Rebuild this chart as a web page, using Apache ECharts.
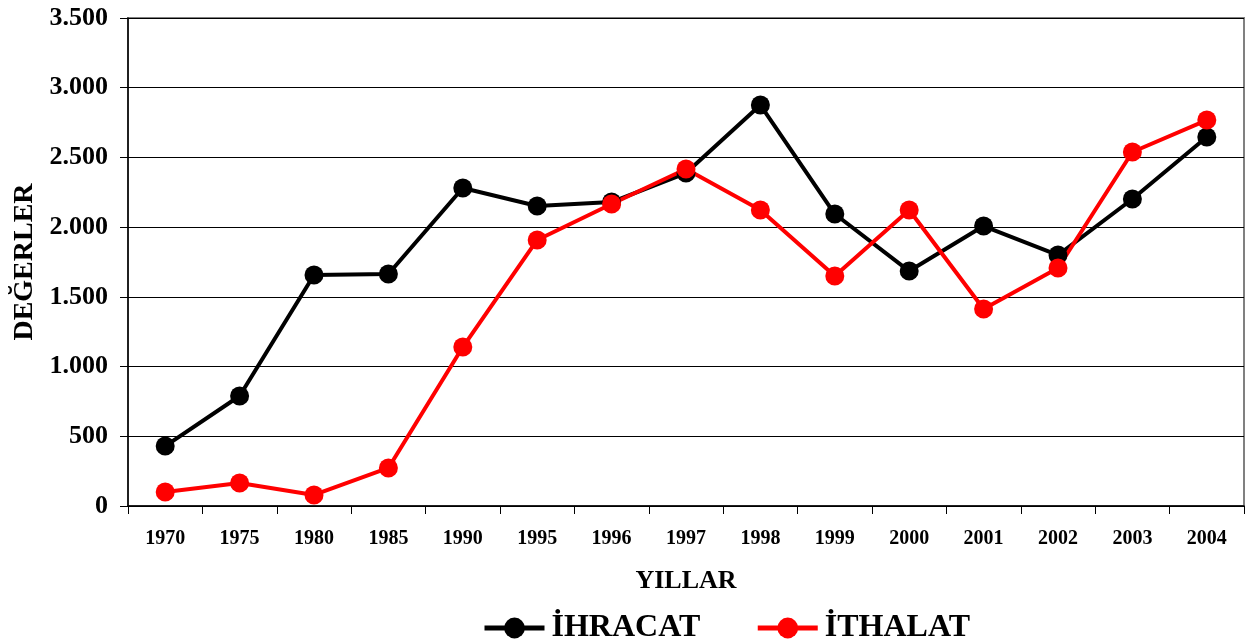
<!DOCTYPE html>
<html>
<head>
<meta charset="utf-8">
<script src="https://cdn.jsdelivr.net/npm/echarts@6/dist/echarts.min.js"></script>
<style>html,body{margin:0;padding:0;background:#fff;}#c{width:1252px;height:643px;}</style>
</head>
<body>
<div id="c"></div>
<script>
const categories = ['1970','1975','1980','1985','1990','1995','1996','1997','1998','1999','2000','2001','2002','2003','2004'];
const ihracat = [430, 789, 1657, 1664, 2281, 2152, 2180, 2388, 2876, 2094, 1685, 2008, 1800, 2202, 2647];
const ithalat = [100, 165, 79, 273, 1140, 1908, 2166, 2417, 2123, 1650, 2123, 1413, 1707, 2539, 2768];
const seriesNames = ['İHRACAT', 'İTHALAT'];
const yTicks = {min: 0, max: 3500, interval: 500};

const font = '"Liberation Serif", "Times New Roman", serif';
const chart = echarts.init(document.getElementById('c'), null, {renderer: 'canvas'});
function fmt(v){ return String(v).replace(/\B(?=(\d{3})+(?!\d))/g, '.'); }
chart.setOption({
  animation: false,
  backgroundColor: '#fff',
  grid: {left: 128, right: 8, top: 18, bottom: 137, show: true, borderColor: '#808080', borderWidth: 2},
  legend: {
    top: 607, left: 477,
    itemWidth: 60, itemHeight: 26, itemGap: 55,
    lineStyle: {width: 5},
    textStyle: {fontFamily: font, fontWeight: 'bold', fontSize: 32, color: '#000', padding: [0, 0, 0, 2]},
    data: seriesNames
  },
  xAxis: {
    type: 'category', data: categories, boundaryGap: true,
    name: 'YILLAR', nameLocation: 'middle', nameGap: 62,
    nameTextStyle: {fontFamily: font, fontWeight: 'bold', fontSize: 26, color: '#000'},
    axisLine: {lineStyle: {color: '#000', width: 1.5}},
    axisTick: {show: true, length: 8, lineStyle: {color: '#000'}, alignWithLabel: false},
    axisLabel: {fontFamily: font, fontWeight: 'bold', fontSize: 20, color: '#000', margin: 23},
    splitLine: {show: false}
  },
  yAxis: {
    type: 'value', min: yTicks.min, max: yTicks.max, interval: yTicks.interval,
    name: 'DEĞERLER', nameLocation: 'middle', nameGap: 76, nameRotate: 90,
    nameTextStyle: {fontFamily: font, fontWeight: 'bold', fontSize: 28, color: '#000'},
    axisLine: {show: true, lineStyle: {color: '#000', width: 1.5}},
    axisTick: {show: true, length: 8, lineStyle: {color: '#000'}},
    axisLabel: {fontFamily: font, fontWeight: 'bold', fontSize: 26, color: '#000', margin: 20, formatter: fmt},
    splitLine: {show: true, lineStyle: {color: '#000', width: 1}}
  },
  series: [
    {name: seriesNames[0], type: 'line', data: ihracat, symbol: 'circle', symbolSize: 19,
     itemStyle: {color: '#000'}, lineStyle: {color: '#000', width: 4}},
    {name: seriesNames[1], type: 'line', data: ithalat, symbol: 'circle', symbolSize: 19,
     itemStyle: {color: '#ff0000'}, lineStyle: {color: '#ff0000', width: 4}}
  ]
});
</script>
</body>
</html>
